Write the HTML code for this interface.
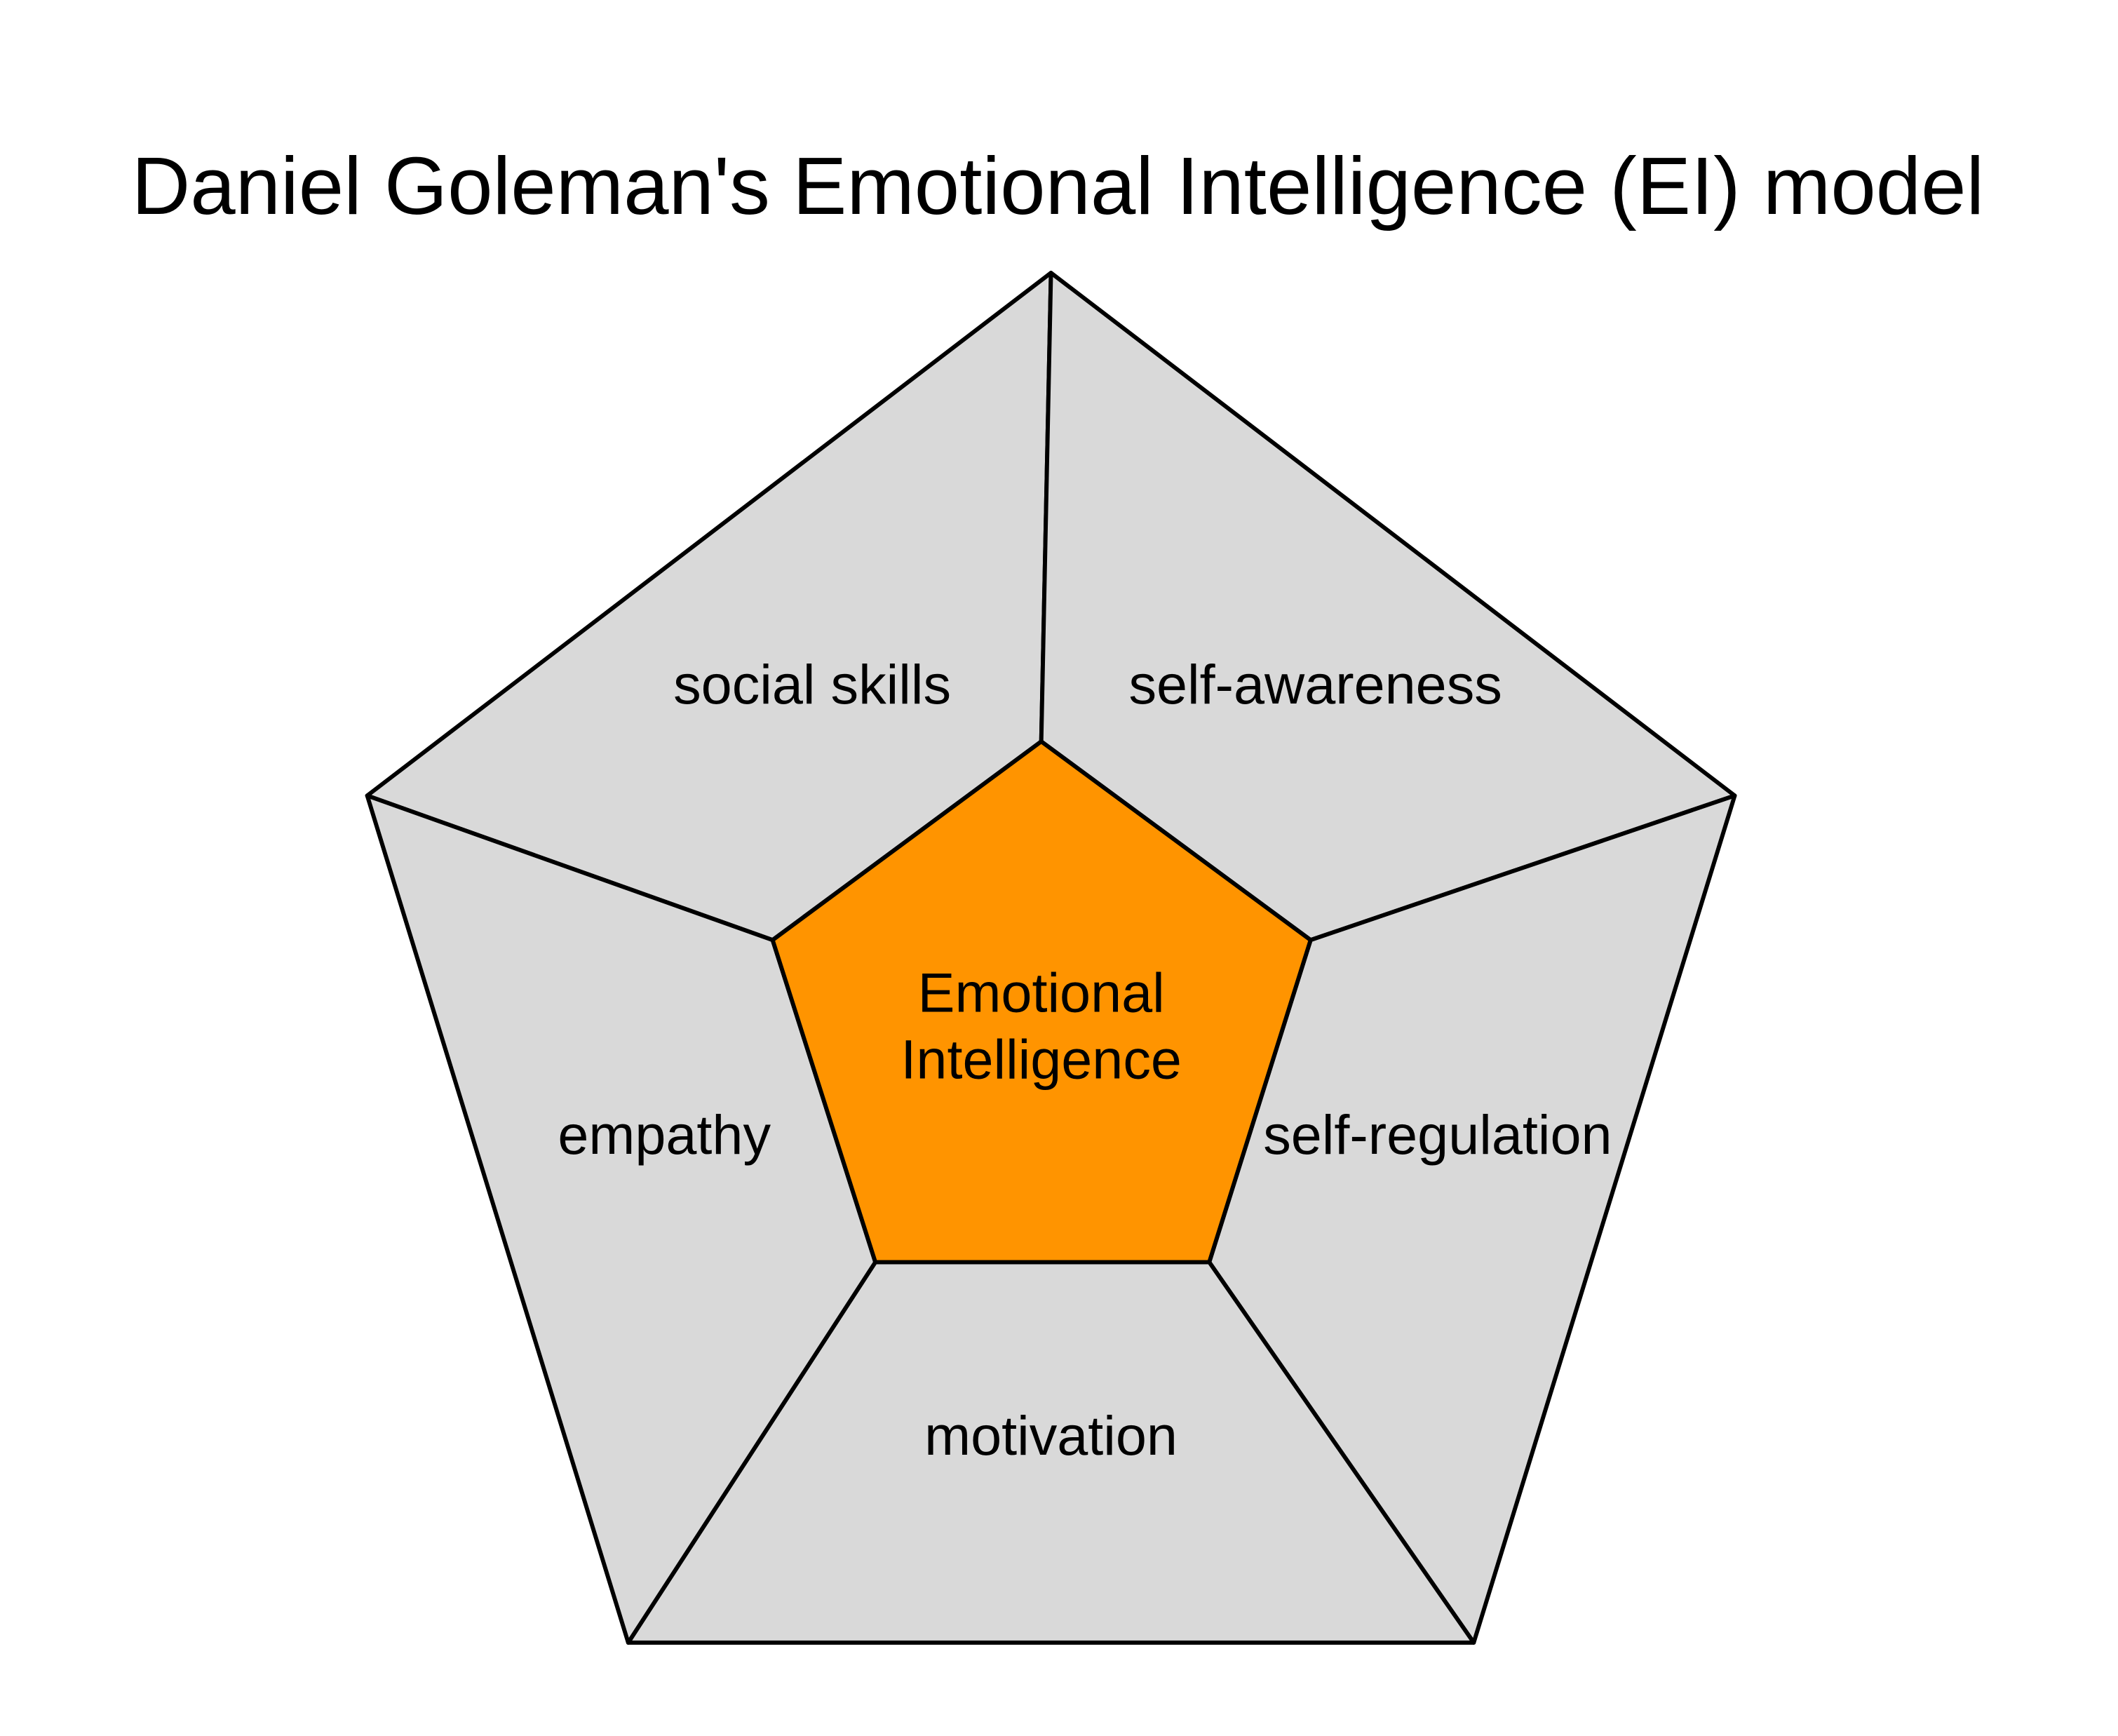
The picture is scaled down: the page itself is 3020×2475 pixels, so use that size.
<!DOCTYPE html>
<html><head><style>html,body{margin:0;padding:0;background:#fff;}</style></head>
<body>
<svg width="3020" height="2475" viewBox="0 0 3020 2475" xmlns="http://www.w3.org/2000/svg" style="display:block">
<rect width="3020" height="2475" fill="#fff"/>
<g transform="scale(0.9898)">
<g stroke="#000" stroke-width="6" stroke-linejoin="round" fill="#d9d9d9">
<polygon points="1514,393 1500,1068 1113,1354 529,1146"/>
<polygon points="1514,393 2499,1146 1888,1354 1500,1068"/>
<polygon points="2499,1146 2123,2366 1742,1818 1888,1354"/>
<polygon points="2123,2366 905,2366 1261,1818 1742,1818"/>
<polygon points="905,2366 529,1146 1113,1354 1261,1818"/>
<polygon points="1500,1068 1888,1354 1742,1818 1261,1818 1113,1354" fill="#ff9400"/>
</g>
<g font-family="'Liberation Sans', sans-serif" fill="#000" text-anchor="middle">
<text x="1524" y="308" font-size="117">Daniel Goleman's Emotional Intelligence (EI) model</text>
<g font-size="80" dominant-baseline="middle">
<text x="1170" y="992">social skills</text>
<text x="1895" y="992">self-awareness</text>
<text x="957" y="1641">empathy</text>
<text x="2071" y="1641">self-regulation</text>
<text x="1514" y="2074">motivation</text>
<text x="1500" y="1436">Emotional</text>
<text x="1500" y="1532">Intelligence</text>
</g>
</g>
</g>
</svg>
</body></html>
